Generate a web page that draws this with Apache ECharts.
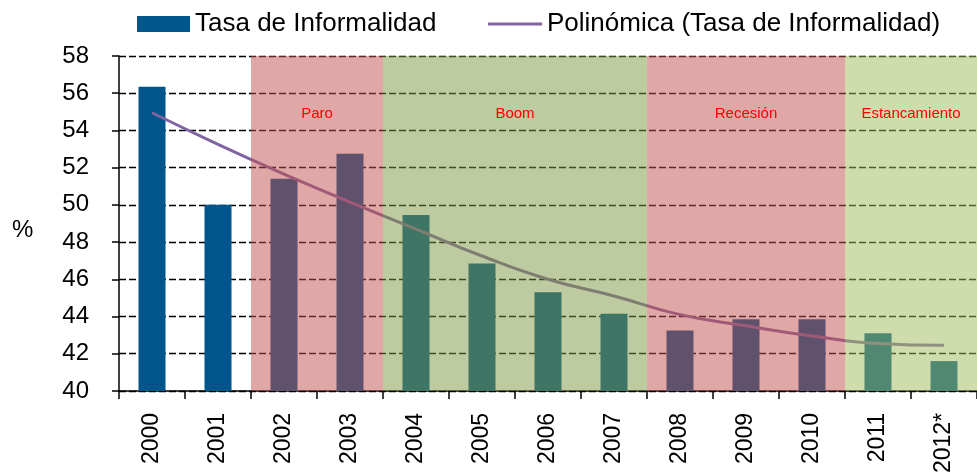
<!DOCTYPE html>
<html>
<head>
<meta charset="utf-8">
<script src="https://cdn.jsdelivr.net/npm/echarts@6/dist/echarts.min.js"></script>
<style>html,body{margin:0;padding:0;background:#fff}#c{width:977px;height:476px}</style>
</head>
<body>
<div id="c"></div>
<script>
var categories = ['2000','2001','2002','2003','2004','2005','2006','2007','2008','2009','2010','2011','2012*'];
var informalidad = [56.35, 50.0, 51.4, 52.75, 49.45, 46.85, 45.3, 44.15, 43.25, 43.85, 43.85, 43.1, 41.6];
var tendencia = [54.95, 53.25, 51.65, 50.15, 48.7, 47.25, 46.0, 45.1, 44.1, 43.5, 42.95, 42.55, 42.45];
var periodos = [
  {name: 'Paro', from: '2002', to: '2003'},
  {name: 'Boom', from: '2004', to: '2007'},
  {name: 'Recesión', from: '2008', to: '2010'},
  {name: 'Estancamiento', from: '2011', to: '2012*'}
];
var periodColors = ['rgba(192,80,77,0.5)', 'rgba(125,149,63,0.5)', 'rgba(192,80,77,0.5)', 'rgba(159,187,89,0.5)'];
var yTicks = {min: 40, max: 58, interval: 2};
var seriesNames = ['Tasa de Informalidad', 'Polinómica (Tasa de Informalidad)'];
var yUnit = '%';

var FONT = "'Liberation Sans', Arial, sans-serif";
var chart = echarts.init(document.getElementById('c'), null, {renderer: 'canvas'});
chart.setOption({
  animation: false,
  textStyle: {fontFamily: FONT},
  grid: {left: 119, top: 56, width: 866, height: 339, containLabel: false},
  graphic: [{
    type: 'text', left: 12, top: 218,
    style: {text: yUnit, fontSize: 24, fontFamily: FONT, fill: '#000'}
  }],
  legend: [
    {left: 137, top: 11, padding: 0, itemWidth: 53, itemHeight: 16,
     data: [{name: seriesNames[0], icon: 'rect'}],
     textStyle: {fontSize: 26, color: '#000', fontFamily: FONT}},
    {left: 488, top: 11, padding: 0, itemWidth: 54, itemHeight: 3,
     data: [{name: seriesNames[1], icon: 'rect', itemStyle: {color: '#8064A2'}}],
     textStyle: {fontSize: 26, color: '#000', fontFamily: FONT}}
  ],
  xAxis: [{
    type: 'category', data: categories, boundaryGap: true,
    axisLine: {lineStyle: {color: '#000', width: 1.5}},
    axisTick: {show: true, length: 8, lineStyle: {color: '#000', width: 1.5}},
    axisLabel: {rotate: 90, margin: 22, fontSize: 23, color: '#000', fontFamily: FONT},
    splitLine: {show: false}
  }, {
    type: 'value', min: 0, max: categories.length, show: false
  }],
  yAxis: {
    type: 'value', min: yTicks.min, max: yTicks.max, interval: yTicks.interval,
    axisLine: {show: true, lineStyle: {color: '#000', width: 1.5}},
    axisTick: {show: true, length: 7, lineStyle: {color: '#000', width: 1.5}},
    axisLabel: {margin: 30, fontSize: 24, color: '#000', fontFamily: FONT},
    splitLine: {show: true, lineStyle: {color: '#000', type: [7, 3], width: 1.3}}
  },
  series: [
    {
      name: seriesNames[0], type: 'bar', data: informalidad, barWidth: 27,
      itemStyle: {color: '#00558A'}, z: 2
    },
    {
      name: seriesNames[1], type: 'line', data: tendencia, smooth: true,
      symbol: 'none', showSymbol: false,
      lineStyle: {color: '#8064A2', width: 3}, itemStyle: {color: '#8064A2'}, z: 3
    },
    {
      name: 'periodos', type: 'line', data: [], xAxisIndex: 1,
      markArea: {
        silent: true, z: 5,
        label: {show: true, position: 'insideTop', distance: 50, color: '#FF0000', fontSize: 15, fontFamily: FONT},
        data: periodos.map(function (p, i) {
          return [
            {name: p.name, xAxis: categories.indexOf(p.from), itemStyle: {color: periodColors[i]}},
            {xAxis: categories.indexOf(p.to) + 1}
          ];
        })
      }
    }
  ]
});
</script>
</body>
</html>
